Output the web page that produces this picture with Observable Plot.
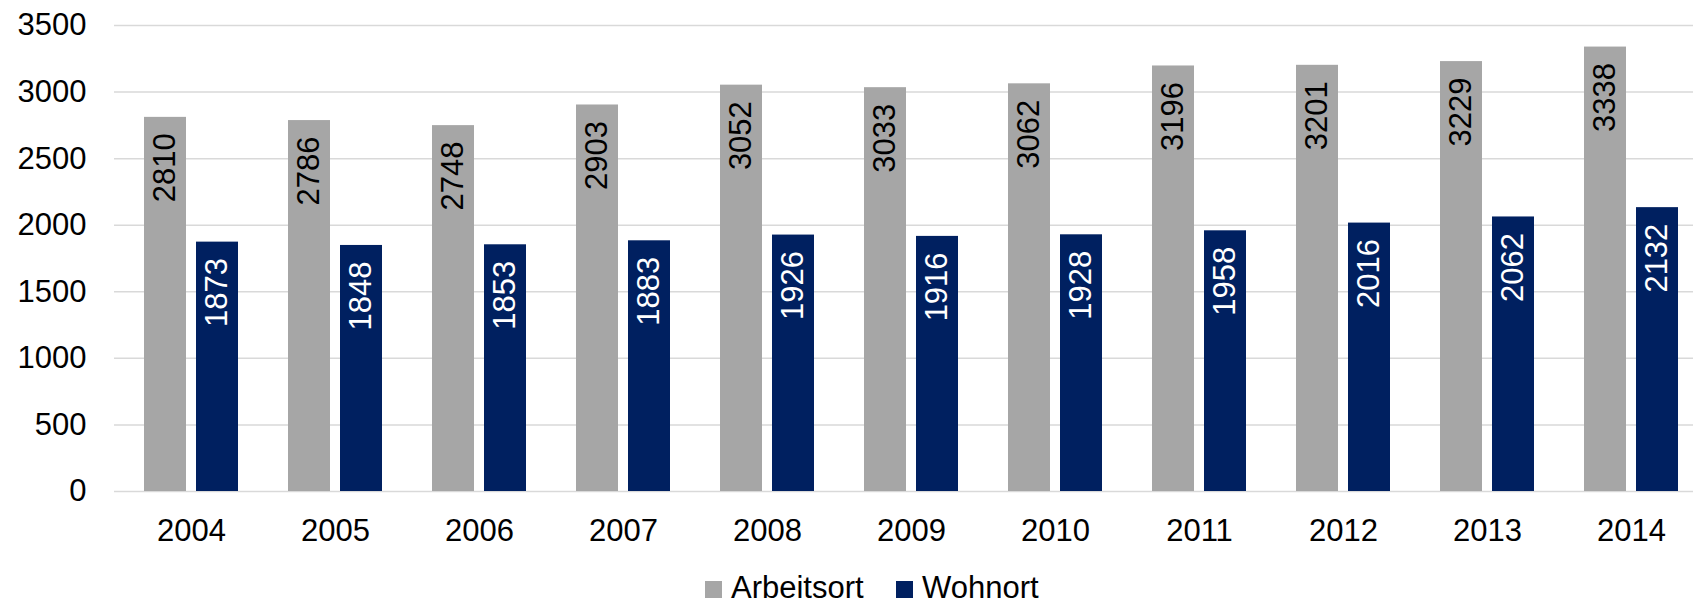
<!DOCTYPE html>
<html>
<head>
<meta charset="utf-8">
<script src="https://cdn.jsdelivr.net/npm/d3@7"></script>
<script src="https://cdn.jsdelivr.net/npm/@observablehq/plot@0.6"></script>
<style>
  html, body { margin: 0; padding: 0; background: #fff; overflow: hidden; }
  #wrap { position: relative; width: 1693px; height: 602px; overflow: hidden; }
  #wrap svg { max-width: none !important; }
  .leg { position: absolute; top: 576px; font-family: "Liberation Sans", Arial, sans-serif; font-size: 31px; line-height: 24px; color: #000; white-space: nowrap; }
  .sw { display: inline-block; width: 17px; height: 17px; margin-right: 9px; vertical-align: baseline; }
</style>
</head>
<body>
<div id="wrap"></div>
<script>
const years = ["2004","2005","2006","2007","2008","2009","2010","2011","2012","2013","2014"];
const arbeitsort = [2810, 2786, 2748, 2903, 3052, 3033, 3062, 3196, 3201, 3229, 3338];
const wohnort = [1873, 1848, 1853, 1883, 1926, 1916, 1928, 1958, 2016, 2062, 2132];
const yTicks = [0, 500, 1000, 1500, 2000, 2500, 3000, 3500];
const seriesNames = ["Arbeitsort", "Wohnort"];
const seriesColors = ["#a6a6a6", "#002060"];

const rows = years.map((y, i) => ({year: y, arbeitsort: arbeitsort[i], wohnort: wohnort[i]}));

const chart = Plot.plot({
  width: 1708,
  height: 560,
  marginLeft: 114,
  marginRight: 0,
  marginTop: 25,
  marginBottom: 69,
  style: {fontFamily: '"Liberation Sans", Arial, sans-serif', fontSize: "31px", color: "#000", background: "#fff", overflow: "visible", maxWidth: "none"},
  x: {domain: years, paddingInner: 0.3444, paddingOuter: 0.1725, label: null},
  y: {domain: [0, 3500], label: null},
  marks: [
    Plot.ruleY(yTicks, {stroke: "#d9d9d9", strokeWidth: 1.5}),
    Plot.barY(rows, {x: "year", y: "arbeitsort", fill: seriesColors[0], insetRight: 52}),
    Plot.barY(rows, {x: "year", y: "wohnort", fill: seriesColors[1], insetLeft: 52}),
    Plot.text(rows, {x: "year", y: "arbeitsort", text: d => String(d.arbeitsort), rotate: -90, textAnchor: "end", dx: -26, dy: 16, fill: "#000", fontSize: 31}),
    Plot.text(rows, {x: "year", y: "wohnort", text: d => String(d.wohnort), rotate: -90, textAnchor: "end", dx: 26, dy: 16, fill: "#fff", fontSize: 31}),
    Plot.axisY({ticks: yTicks, tickSize: 0, tickPadding: 28, label: null, fontSize: 31, tickFormat: d => String(d)}),
    Plot.axisX({tickSize: 0, tickPadding: 27, label: null, fontSize: 31})
  ]
});
const wrap = document.getElementById("wrap");
wrap.appendChild(chart);

const legLeft = [705, 896];
seriesNames.forEach((name, i) => {
  const d = document.createElement("div");
  d.className = "leg";
  d.style.left = legLeft[i] + "px";
  const s = document.createElement("span");
  s.className = "sw";
  s.style.background = seriesColors[i];
  d.appendChild(s);
  d.appendChild(document.createTextNode(name));
  wrap.appendChild(d);
});
</script>
</body>
</html>
